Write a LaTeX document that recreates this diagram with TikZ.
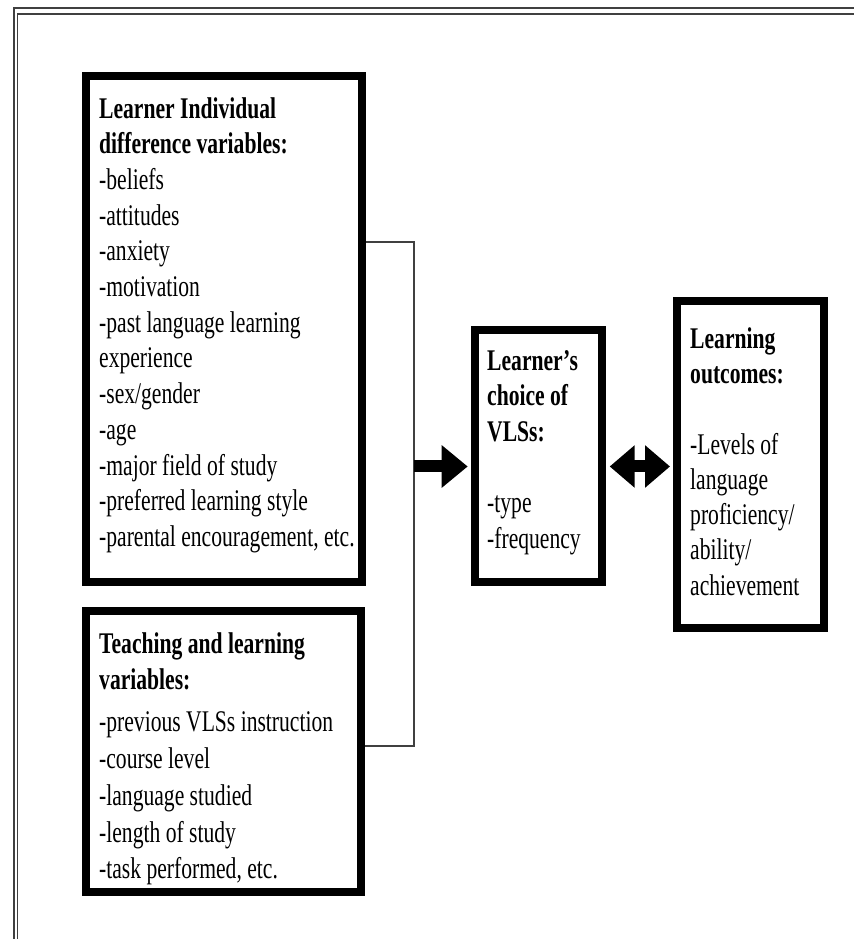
\documentclass[tikz,border=0pt]{standalone}
\usepackage{fontspec}
\setmainfont{Liberation Serif}[FakeStretch=0.72]
\usetikzlibrary{arrows.meta}
\pgfdeclarelayer{front}
\pgfsetlayers{main,front}
\begin{document}
\begin{tikzpicture}[x=1pt,y=1pt,
  box/.style={draw=black, line width=8pt, rectangle, inner sep=0pt, anchor=north west},
  boxtext/.style={anchor=north west, inner sep=0pt, align=left,
    font=\fontsize{30}{35.7}\selectfont},
  pagerule/.style={draw=black!75, line width=1.5pt},
  linkline/.style={draw=black!75, line width=1.5pt},
  bigarrow/.style={line width=12pt, -{Triangle[length=26pt,width=41pt]}},
  duoarrow/.style={line width=12pt,
    {Triangle[length=25pt,width=41pt]}-{Triangle[length=25pt,width=41pt]}}
]
\useasboundingbox (0,0) rectangle (854,939);

% double rule along the top and left edges of the page
\draw[pagerule] (14,0) -- (14,931) -- (854,931);
\draw[pagerule] (17.5,0) -- (17.5,925) -- (854,925);

% heavy-bordered boxes, drawn above their text
\begin{pgfonlayer}{front}
\node[box, minimum width=276, minimum height=506] (box1) at (82,867) {};
\node[box, minimum width=275, minimum height=281] (box2) at (82,332) {};
\node[box, minimum width=127, minimum height=252] (box3) at (471,613) {};
\node[box, minimum width=147, minimum height=327] (box4) at (673,642) {};
\end{pgfonlayer}

% box contents
\node[boxtext, xshift=17pt, yshift=-25pt] (t1) at (box1.north west)
  {\textbf{Learner Individual}\\
   \textbf{difference variables:}\\
   -beliefs\\
   -attitudes\\
   -anxiety\\
   -motivation\\
   -past language learning\\
   experience\\
   -sex/gender\\
   -age\\
   -major field of study\\
   -preferred learning style\\
   -parental encouragement, etc.};

\node[boxtext, xshift=17pt, yshift=-25pt,
      font=\fontsize{30}{36.8}\selectfont] (t2) at (box2.north west)
  {\textbf{Teaching and learning}\\
   \textbf{variables:}\\[5pt]
   -previous VLSs instruction\\
   -course level\\
   -language studied\\
   -length of study\\
   -task performed, etc.};

\node[boxtext, xshift=16pt, yshift=-24pt] (t3) at (box3.north west)
  {\textbf{Learner’s}\\
   \textbf{choice of}\\
   \textbf{VLSs:}\\[35.7pt]
   -type\\
   -frequency};

\node[boxtext, xshift=17pt, yshift=-30.6pt,
      font=\fontsize{30}{35.2}\selectfont] (t4) at (box4.north west)
  {\textbf{Learning}\\
   \textbf{outcomes:}\\[35.2pt]
   -Levels of\\
   language\\
   proficiency/\\
   ability/\\
   achievement};

% bracket joining the two left boxes, and the arrows
\coordinate (jtop) at (414,697);
\coordinate (jbot) at (414,193);
\coordinate (jmid) at (414,472.5);
\draw[linkline] (jtop -| box1.east) -- (jtop) -- (jbot) -- (jbot -| box2.east);
\draw[bigarrow, shorten >=3.3pt] (jmid) -- (jmid -| box3.west);
\draw[duoarrow, shorten <=3.7pt, shorten >=3pt] (jmid -| box3.east) -- (jmid -| box4.west);
\end{tikzpicture}
\end{document}
